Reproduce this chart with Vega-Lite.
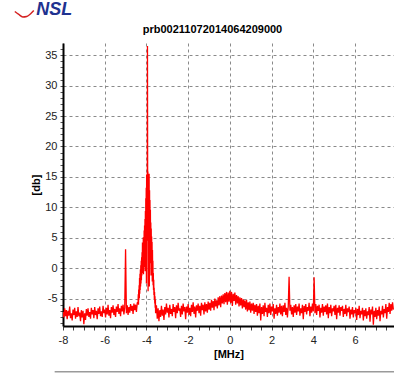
{
  "$schema": "https://vega.github.io/schema/vega-lite/v6.json",
  "width": 331,
  "height": 283,
  "autosize": {"type": "none"},
  "padding": {"left": 63, "top": 43, "right": 0, "bottom": 59},
  "background": "white",
  "config": {"view": {"stroke": null}, "font": "Liberation Sans"},
  "title": {"text": "prb00211072014064209000", "fontSize": 11, "fontWeight": "bold", "font": "Liberation Sans", "color": "#000", "anchor": "middle", "dx": -16, "offset": 8, "dy": 42},
  "data": {"values": [
    {"mhz":-8.00,"db":-7.2},{"mhz":-7.96,"db":-8.1},{"mhz":-7.92,"db":-6.6},{"mhz":-7.88,"db":-7.9},{"mhz":-7.84,"db":-6.9},{"mhz":-7.80,"db":-8.4},{"mhz":-7.76,"db":-7.0},{"mhz":-7.72,"db":-7.8},{"mhz":-7.68,"db":-6.3},{"mhz":-7.64,"db":-8.2},
    {"mhz":-7.60,"db":-7.4},{"mhz":-7.56,"db":-8.6},{"mhz":-7.52,"db":-6.8},{"mhz":-7.48,"db":-7.7},{"mhz":-7.44,"db":-6.5},{"mhz":-7.40,"db":-8.3},{"mhz":-7.36,"db":-7.1},{"mhz":-7.32,"db":-8.0},{"mhz":-7.28,"db":-6.4},{"mhz":-7.24,"db":-7.9},
    {"mhz":-7.20,"db":-7.3},{"mhz":-7.16,"db":-8.7},{"mhz":-7.12,"db":-6.9},{"mhz":-7.08,"db":-8.1},{"mhz":-7.04,"db":-7.0},{"mhz":-7.00,"db":-9.2},{"mhz":-6.96,"db":-7.4},{"mhz":-6.92,"db":-8.5},{"mhz":-6.88,"db":-6.7},{"mhz":-6.84,"db":-7.8},
    {"mhz":-6.80,"db":-6.6},{"mhz":-6.76,"db":-8.0},{"mhz":-6.72,"db":-7.2},{"mhz":-6.68,"db":-8.3},{"mhz":-6.64,"db":-6.5},{"mhz":-6.60,"db":-7.6},{"mhz":-6.56,"db":-6.9},{"mhz":-6.52,"db":-8.2},{"mhz":-6.48,"db":-6.4},{"mhz":-6.44,"db":-7.7},
    {"mhz":-6.40,"db":-7.0},{"mhz":-6.36,"db":-8.4},{"mhz":-6.32,"db":-6.6},{"mhz":-6.28,"db":-7.5},{"mhz":-6.24,"db":-6.3},{"mhz":-6.20,"db":-7.9},{"mhz":-6.16,"db":-7.1},{"mhz":-6.12,"db":-8.0},{"mhz":-6.08,"db":-6.2},{"mhz":-6.04,"db":-7.4},
    {"mhz":-6.00,"db":-6.8},{"mhz":-5.96,"db":-8.1},{"mhz":-5.92,"db":-6.5},{"mhz":-5.88,"db":-7.6},{"mhz":-5.84,"db":-6.0},{"mhz":-5.80,"db":-7.8},{"mhz":-5.76,"db":-6.9},{"mhz":-5.72,"db":-8.2},{"mhz":-5.68,"db":-6.4},{"mhz":-5.64,"db":-7.3},
    {"mhz":-5.60,"db":-6.1},{"mhz":-5.56,"db":-7.7},{"mhz":-5.52,"db":-6.7},{"mhz":-5.48,"db":-8.0},{"mhz":-5.44,"db":-6.3},{"mhz":-5.40,"db":-7.2},{"mhz":-5.36,"db":-5.9},{"mhz":-5.32,"db":-7.5},{"mhz":-5.28,"db":-6.6},{"mhz":-5.24,"db":-7.9},
    {"mhz":-5.20,"db":-6.2},{"mhz":-5.16,"db":-7.1},{"mhz":-5.12,"db":-6.0},{"mhz":-5.08,"db":-7.6},{"mhz":-5.04,"db":-6.5},{"mhz":-5.00,"db":3.1},{"mhz":-4.96,"db":-7.4},{"mhz":-4.92,"db":-6.1},{"mhz":-4.88,"db":-7.7},{"mhz":-4.84,"db":-6.4},
    {"mhz":-4.80,"db":-7.3},{"mhz":-4.76,"db":-5.9},{"mhz":-4.72,"db":-7.0},{"mhz":-4.68,"db":-6.2},{"mhz":-4.64,"db":-7.5},{"mhz":-4.60,"db":-5.8},{"mhz":-4.56,"db":-6.9},{"mhz":-4.52,"db":-6.0},{"mhz":-4.48,"db":-7.2},{"mhz":-4.44,"db":-5.7},
    {"mhz":-4.40,"db":-5.6},{"mhz":-4.39,"db":-4.3},{"mhz":-4.38,"db":-6.0},{"mhz":-4.37,"db":-3.5},{"mhz":-4.36,"db":-5.2},{"mhz":-4.35,"db":-2.8},{"mhz":-4.34,"db":-4.9},{"mhz":-4.33,"db":-1.6},{"mhz":-4.32,"db":-4.2},{"mhz":-4.31,"db":-0.9},
    {"mhz":-4.30,"db":-3.6},{"mhz":-4.29,"db":-0.2},{"mhz":-4.28,"db":-3.0},{"mhz":-4.27,"db":0.5},{"mhz":-4.26,"db":-2.5},{"mhz":-4.25,"db":1.2},{"mhz":-4.24,"db":-2.0},{"mhz":-4.23,"db":1.8},{"mhz":-4.22,"db":-1.2},{"mhz":-4.21,"db":2.6},
    {"mhz":-4.20,"db":-0.8},{"mhz":-4.19,"db":4.2},{"mhz":-4.18,"db":-0.3},{"mhz":-4.17,"db":3.4},{"mhz":-4.16,"db":0.4},{"mhz":-4.15,"db":5.1},{"mhz":-4.14,"db":-1.0},{"mhz":-4.13,"db":4.6},{"mhz":-4.12,"db":1.3},{"mhz":-4.11,"db":6.2},
    {"mhz":-4.10,"db":0.2},{"mhz":-4.09,"db":7.0},{"mhz":-4.08,"db":2.1},{"mhz":-4.07,"db":8.1},{"mhz":-4.06,"db":-0.5},{"mhz":-4.05,"db":9.4},{"mhz":-4.04,"db":3.0},{"mhz":-4.03,"db":11.5},{"mhz":-4.02,"db":1.6},{"mhz":-4.01,"db":13.2},
    {"mhz":-4.00,"db":-2.5},{"mhz":-3.99,"db":15.4},{"mhz":-3.98,"db":4.5},{"mhz":-3.97,"db":14.0},{"mhz":-3.96,"db":8.2},{"mhz":-3.95,"db":36.5},{"mhz":-3.94,"db":10.0},{"mhz":-3.93,"db":15.9},{"mhz":-3.92,"db":-3.8},{"mhz":-3.91,"db":15.2},
    {"mhz":-3.90,"db":6.1},{"mhz":-3.89,"db":14.6},{"mhz":-3.88,"db":2.0},{"mhz":-3.87,"db":15.5},{"mhz":-3.86,"db":-3.0},{"mhz":-3.85,"db":12.8},{"mhz":-3.84,"db":4.2},{"mhz":-3.83,"db":11.2},{"mhz":-3.82,"db":0.8},{"mhz":-3.81,"db":9.6},
    {"mhz":-3.80,"db":3.5},{"mhz":-3.79,"db":7.5},{"mhz":-3.78,"db":-1.2},{"mhz":-3.77,"db":6.5},{"mhz":-3.76,"db":1.8},{"mhz":-3.75,"db":5.2},{"mhz":-3.74,"db":-0.6},{"mhz":-3.73,"db":4.3},{"mhz":-3.72,"db":-2.2},{"mhz":-3.71,"db":3.0},
    {"mhz":-3.70,"db":-1.0},{"mhz":-3.69,"db":1.2},{"mhz":-3.68,"db":-2.8},{"mhz":-3.67,"db":-0.8},{"mhz":-3.66,"db":-3.6},{"mhz":-3.65,"db":-1.9},{"mhz":-3.64,"db":-4.4},{"mhz":-3.63,"db":-3.2},{"mhz":-3.62,"db":-5.1},{"mhz":-3.61,"db":-3.9},
    {"mhz":-3.60,"db":-5.8},{"mhz":-3.59,"db":-4.6},{"mhz":-3.58,"db":-6.5},{"mhz":-3.57,"db":-5.2},{"mhz":-3.56,"db":-7.4},
    {"mhz":-3.52,"db":-6.1},{"mhz":-3.48,"db":-8.3},{"mhz":-3.44,"db":-6.6},{"mhz":-3.40,"db":-8.7},{"mhz":-3.36,"db":-6.9},{"mhz":-3.32,"db":-8.0},{"mhz":-3.28,"db":-6.2},{"mhz":-3.24,"db":-7.8},{"mhz":-3.20,"db":-6.8},{"mhz":-3.16,"db":-8.5},
    {"mhz":-3.12,"db":-6.4},{"mhz":-3.08,"db":-7.6},{"mhz":-3.04,"db":-5.8},{"mhz":-3.00,"db":-7.3},{"mhz":-2.96,"db":-6.5},{"mhz":-2.92,"db":-8.1},{"mhz":-2.88,"db":-6.0},{"mhz":-2.84,"db":-7.5},{"mhz":-2.80,"db":-6.7},{"mhz":-2.76,"db":-7.9},
    {"mhz":-2.72,"db":-5.9},{"mhz":-2.68,"db":-7.2},{"mhz":-2.64,"db":-6.4},{"mhz":-2.60,"db":-8.2},{"mhz":-2.56,"db":-6.1},{"mhz":-2.52,"db":-7.4},{"mhz":-2.48,"db":-5.7},{"mhz":-2.44,"db":-7.0},{"mhz":-2.40,"db":-6.6},{"mhz":-2.36,"db":-8.0},
    {"mhz":-2.32,"db":-6.2},{"mhz":-2.28,"db":-7.6},{"mhz":-2.24,"db":-5.8},{"mhz":-2.20,"db":-7.1},{"mhz":-2.16,"db":-6.4},{"mhz":-2.12,"db":-8.4},{"mhz":-2.08,"db":-6.3},{"mhz":-2.04,"db":-7.3},{"mhz":-2.00,"db":-5.9},{"mhz":-1.96,"db":-7.7},
    {"mhz":-1.92,"db":-6.5},{"mhz":-1.88,"db":-7.9},{"mhz":-1.84,"db":-6.0},{"mhz":-1.80,"db":-7.2},{"mhz":-1.76,"db":-5.6},{"mhz":-1.72,"db":-7.5},{"mhz":-1.68,"db":-6.3},{"mhz":-1.64,"db":-8.1},{"mhz":-1.60,"db":-6.1},{"mhz":-1.56,"db":-7.0},
    {"mhz":-1.52,"db":-5.8},{"mhz":-1.48,"db":-7.4},{"mhz":-1.44,"db":-6.2},{"mhz":-1.40,"db":-7.8},{"mhz":-1.36,"db":-5.7},{"mhz":-1.32,"db":-6.9},{"mhz":-1.28,"db":-6.0},{"mhz":-1.24,"db":-7.6},{"mhz":-1.20,"db":-5.6},{"mhz":-1.16,"db":-7.1},
    {"mhz":-1.12,"db":-5.9},{"mhz":-1.08,"db":-7.3},{"mhz":-1.04,"db":-5.5},{"mhz":-1.00,"db":-6.8},{"mhz":-0.96,"db":-5.7},{"mhz":-0.92,"db":-7.0},{"mhz":-0.88,"db":-5.2},{"mhz":-0.84,"db":-6.5},{"mhz":-0.80,"db":-5.4},{"mhz":-0.76,"db":-6.9},
    {"mhz":-0.72,"db":-5.0},{"mhz":-0.68,"db":-6.3},{"mhz":-0.64,"db":-5.3},{"mhz":-0.60,"db":-6.6},{"mhz":-0.56,"db":-4.8},{"mhz":-0.52,"db":-6.1},{"mhz":-0.48,"db":-4.6},{"mhz":-0.44,"db":-6.4},{"mhz":-0.40,"db":-4.5},{"mhz":-0.36,"db":-5.8},
    {"mhz":-0.32,"db":-4.3},{"mhz":-0.28,"db":-5.9},{"mhz":-0.24,"db":-4.1},{"mhz":-0.20,"db":-5.6},{"mhz":-0.16,"db":-3.9},{"mhz":-0.12,"db":-6.0},{"mhz":-0.08,"db":-4.0},{"mhz":-0.04,"db":-5.5},{"mhz":0.00,"db":-3.7},{"mhz":0.04,"db":-5.7},
    {"mhz":0.08,"db":-3.9},{"mhz":0.12,"db":-6.2},{"mhz":0.16,"db":-4.2},{"mhz":0.20,"db":-5.4},{"mhz":0.24,"db":-4.0},{"mhz":0.28,"db":-6.0},{"mhz":0.32,"db":-4.4},{"mhz":0.36,"db":-5.8},{"mhz":0.40,"db":-4.6},{"mhz":0.44,"db":-6.3},
    {"mhz":0.48,"db":-4.8},{"mhz":0.52,"db":-6.1},{"mhz":0.56,"db":-4.9},{"mhz":0.60,"db":-6.6},{"mhz":0.64,"db":-5.1},{"mhz":0.68,"db":-6.4},{"mhz":0.72,"db":-5.3},{"mhz":0.76,"db":-6.8},{"mhz":0.80,"db":-5.2},{"mhz":0.84,"db":-7.1},
    {"mhz":0.88,"db":-5.6},{"mhz":0.92,"db":-6.9},{"mhz":0.96,"db":-5.5},{"mhz":1.00,"db":-7.3},{"mhz":1.04,"db":-5.8},{"mhz":1.08,"db":-7.0},{"mhz":1.12,"db":-5.7},{"mhz":1.16,"db":-7.5},{"mhz":1.20,"db":-6.0},{"mhz":1.24,"db":-7.2},
    {"mhz":1.28,"db":-5.9},{"mhz":1.32,"db":-7.8},{"mhz":1.36,"db":-6.2},{"mhz":1.40,"db":-7.4},{"mhz":1.44,"db":-5.8},{"mhz":1.48,"db":-8.6},{"mhz":1.52,"db":-6.4},{"mhz":1.56,"db":-7.5},{"mhz":1.60,"db":-6.1},{"mhz":1.64,"db":-7.9},
    {"mhz":1.68,"db":-5.7},{"mhz":1.72,"db":-7.2},{"mhz":1.76,"db":-6.5},{"mhz":1.80,"db":-8.0},{"mhz":1.84,"db":-6.0},{"mhz":1.88,"db":-7.4},{"mhz":1.92,"db":-5.8},{"mhz":1.96,"db":-7.7},{"mhz":2.00,"db":-6.3},{"mhz":2.04,"db":-7.1},
    {"mhz":2.08,"db":-5.9},{"mhz":2.12,"db":-8.3},{"mhz":2.16,"db":-6.6},{"mhz":2.20,"db":-7.5},{"mhz":2.24,"db":-6.0},{"mhz":2.28,"db":-7.8},{"mhz":2.32,"db":-6.4},{"mhz":2.36,"db":-7.3},{"mhz":2.40,"db":-5.8},{"mhz":2.44,"db":-7.6},
    {"mhz":2.48,"db":-6.2},{"mhz":2.52,"db":-7.9},{"mhz":2.56,"db":-6.1},{"mhz":2.60,"db":-7.2},{"mhz":2.64,"db":-5.7},{"mhz":2.68,"db":-7.7},{"mhz":2.72,"db":-6.5},{"mhz":2.76,"db":-8.1},{"mhz":2.80,"db":-6.3},{"mhz":2.84,"db":-1.4},
    {"mhz":2.88,"db":-7.0},{"mhz":2.92,"db":-6.0},{"mhz":2.96,"db":-7.6},{"mhz":3.00,"db":-6.4},{"mhz":3.04,"db":-8.0},{"mhz":3.08,"db":-6.1},{"mhz":3.12,"db":-7.3},{"mhz":3.16,"db":-5.9},{"mhz":3.20,"db":-7.7},{"mhz":3.24,"db":-6.3},
    {"mhz":3.28,"db":-7.1},{"mhz":3.32,"db":-5.8},{"mhz":3.36,"db":-7.8},{"mhz":3.40,"db":-6.6},{"mhz":3.44,"db":-7.4},{"mhz":3.48,"db":-6.0},{"mhz":3.52,"db":-8.4},{"mhz":3.56,"db":-6.2},{"mhz":3.60,"db":-7.2},{"mhz":3.64,"db":-5.9},
    {"mhz":3.68,"db":-7.6},{"mhz":3.72,"db":-6.4},{"mhz":3.76,"db":-7.0},{"mhz":3.80,"db":-5.7},{"mhz":3.84,"db":-7.9},{"mhz":3.88,"db":-6.3},{"mhz":3.92,"db":-7.3},{"mhz":3.96,"db":-5.8},{"mhz":4.00,"db":-7.1},{"mhz":4.04,"db":-1.5},
    {"mhz":4.08,"db":-7.4},{"mhz":4.12,"db":-5.9},{"mhz":4.16,"db":-7.7},{"mhz":4.20,"db":-6.2},{"mhz":4.24,"db":-7.0},{"mhz":4.28,"db":-6.0},{"mhz":4.32,"db":-8.1},{"mhz":4.36,"db":-6.5},{"mhz":4.40,"db":-7.3},{"mhz":4.44,"db":-5.9},
    {"mhz":4.48,"db":-7.8},{"mhz":4.52,"db":-6.3},{"mhz":4.56,"db":-7.2},{"mhz":4.60,"db":-6.1},{"mhz":4.64,"db":-7.6},{"mhz":4.68,"db":-5.8},{"mhz":4.72,"db":-8.2},{"mhz":4.76,"db":-6.4},{"mhz":4.80,"db":-7.4},{"mhz":4.84,"db":-6.0},
    {"mhz":4.88,"db":-7.9},{"mhz":4.92,"db":-6.6},{"mhz":4.96,"db":-7.1},{"mhz":5.00,"db":-6.2},{"mhz":5.04,"db":-7.7},{"mhz":5.08,"db":-6.0},{"mhz":5.12,"db":-8.4},{"mhz":5.16,"db":-6.5},{"mhz":5.20,"db":-7.3},{"mhz":5.24,"db":-6.1},
    {"mhz":5.28,"db":-7.8},{"mhz":5.32,"db":-6.4},{"mhz":5.36,"db":-7.0},{"mhz":5.40,"db":-6.2},{"mhz":5.44,"db":-8.0},{"mhz":5.48,"db":-6.7},{"mhz":5.52,"db":-7.5},{"mhz":5.56,"db":-6.0},{"mhz":5.60,"db":-7.9},{"mhz":5.64,"db":-6.6},
    {"mhz":5.68,"db":-7.2},{"mhz":5.72,"db":-6.3},{"mhz":5.76,"db":-8.3},{"mhz":5.80,"db":-6.8},{"mhz":5.84,"db":-7.6},{"mhz":5.88,"db":-6.4},{"mhz":5.92,"db":-8.1},{"mhz":5.96,"db":-6.9},{"mhz":6.00,"db":-7.4},{"mhz":6.04,"db":-6.5},
    {"mhz":6.08,"db":-8.5},{"mhz":6.12,"db":-6.7},{"mhz":6.16,"db":-7.7},{"mhz":6.20,"db":-6.2},{"mhz":6.24,"db":-8.2},{"mhz":6.28,"db":-7.0},{"mhz":6.32,"db":-7.6},{"mhz":6.36,"db":-6.5},{"mhz":6.40,"db":-8.6},{"mhz":6.44,"db":-6.9},
    {"mhz":6.48,"db":-7.9},{"mhz":6.52,"db":-6.6},{"mhz":6.56,"db":-8.3},{"mhz":6.60,"db":-7.1},{"mhz":6.64,"db":-7.7},{"mhz":6.68,"db":-6.4},{"mhz":6.72,"db":-8.8},{"mhz":6.76,"db":-6.8},{"mhz":6.80,"db":-7.6},{"mhz":6.84,"db":-6.3},
    {"mhz":6.88,"db":-9.3},{"mhz":6.92,"db":-7.0},{"mhz":6.96,"db":-8.0},{"mhz":7.00,"db":-6.5},{"mhz":7.04,"db":-8.4},{"mhz":7.08,"db":-6.9},{"mhz":7.12,"db":-7.8},{"mhz":7.16,"db":-6.3},{"mhz":7.20,"db":-8.7},{"mhz":7.24,"db":-7.0},
    {"mhz":7.28,"db":-7.6},{"mhz":7.32,"db":-6.2},{"mhz":7.36,"db":-8.1},{"mhz":7.40,"db":-6.7},{"mhz":7.44,"db":-7.4},{"mhz":7.48,"db":-5.9},{"mhz":7.52,"db":-8.3},{"mhz":7.56,"db":-6.4},{"mhz":7.60,"db":-7.2},{"mhz":7.64,"db":-5.7},
    {"mhz":7.68,"db":-7.5},{"mhz":7.72,"db":-5.9},{"mhz":7.76,"db":-7.0},{"mhz":7.80,"db":-5.6},{"mhz":7.84,"db":-6.8}
  ]},
  "layer": [
    {
      "mark": {"type": "line", "color": "#ff0000", "strokeWidth": 1.3, "clip": true, "interpolate": "linear"},
      "encoding": {
        "x": {"field": "mhz", "type": "quantitative",
          "scale": {"domain": [-8, 7.87], "nice": false, "zero": false},
          "axis": {
            "title": "[MHz]", "titleFont": "Liberation Sans", "titleFontSize": 11, "titleFontWeight": "bold", "titleColor": "#000", "titlePadding": 3,
            "values": [-8,-7.5,-7,-6.5,-6,-5.5,-5,-4.5,-4,-3.5,-3,-2.5,-2,-1.5,-1,-0.5,0,0.5,1,1.5,2,2.5,3,3.5,4,4.5,5,5.5,6,6.5,7,7.5],
            "tickCount": 200,
            "labelExpr": "datum.value % 2 === 0 ? '' + datum.value : ''",
            "labelOverlap": false,
            "labelFont": "Liberation Sans", "labelFontSize": 11, "labelColor": "#222", "labelPadding": 4, "labelFlush": false,
            "domainColor": "#000", "domainWidth": 2,
            "tickColor": "#444", "tickSize": 4, "tickWidth": 1,
            "grid": true, "gridColor": "#8a8a8a", "gridDash": [3, 3], "gridWidth": 1,
            "gridOpacity": {"condition": {"test": "datum.value % 2 !== 0", "value": 0}, "value": 1}
          }},
        "y": {"field": "db", "type": "quantitative",
          "scale": {"domain": [-9.5, 37], "nice": false, "zero": false},
          "axis": {
            "title": "[db]", "titleFont": "Liberation Sans", "titleFontSize": 11, "titleFontWeight": "bold", "titleColor": "#000", "titlePadding": 3,
            "values": [-9,-8,-7,-6,-5,-4,-3,-2,-1,0,1,2,3,4,5,6,7,8,9,10,11,12,13,14,15,16,17,18,19,20,21,22,23,24,25,26,27,28,29,30,31,32,33,34,35,36],
            "tickCount": 200,
            "labelExpr": "datum.value % 5 === 0 ? '' + datum.value : ''",
            "labelOverlap": false,
            "labelFont": "Liberation Sans", "labelFontSize": 11, "labelColor": "#222", "labelPadding": 3,
            "domainColor": "#000", "domainWidth": 2,
            "tickColor": "#555", "tickSize": 3, "tickWidth": 1,
            "grid": true, "gridColor": "#8a8a8a", "gridDash": [3, 3], "gridWidth": 1,
            "gridOpacity": {"condition": {"test": "datum.value % 5 !== 0", "value": 0}, "value": 1}
          }}
      }
    },
    {
      "data": {"values": [{"label": "NSL"}]},
      "mark": {"type": "text", "clip": false, "font": "Liberation Sans", "fontSize": 18, "fontWeight": "bold", "fontStyle": "italic", "color": "#1f3290", "align": "center", "baseline": "middle"},
      "encoding": {
        "x": {"datum": -8.42, "type": "quantitative"},
        "y": {"datum": 42.4, "type": "quantitative"},
        "text": {"field": "label"}
      }
    },
    {
      "data": {"values": [
        {"sx": -10.31, "sy": 42.18},
        {"sx": -10.12, "sy": 41.69},
        {"sx": -9.93, "sy": 41.28},
        {"sx": -9.74, "sy": 41.36},
        {"sx": -9.54, "sy": 41.85},
        {"sx": -9.40, "sy": 42.34}
      ]},
      "mark": {"type": "line", "clip": false, "color": "#d42020", "strokeWidth": 1.5, "interpolate": "monotone"},
      "encoding": {
        "x": {"field": "sx", "type": "quantitative"},
        "y": {"field": "sy", "type": "quantitative"}
      }
    },
    {
      "data": {"values": [{}]},
      "mark": {"type": "rule", "clip": false, "color": "#9a9a9a", "strokeWidth": 1.5},
      "encoding": {
        "x": {"datum": -8.4, "type": "quantitative"},
        "x2": {"datum": 7.87},
        "y": {"datum": -17, "type": "quantitative"}
      }
    }
  ]
}
